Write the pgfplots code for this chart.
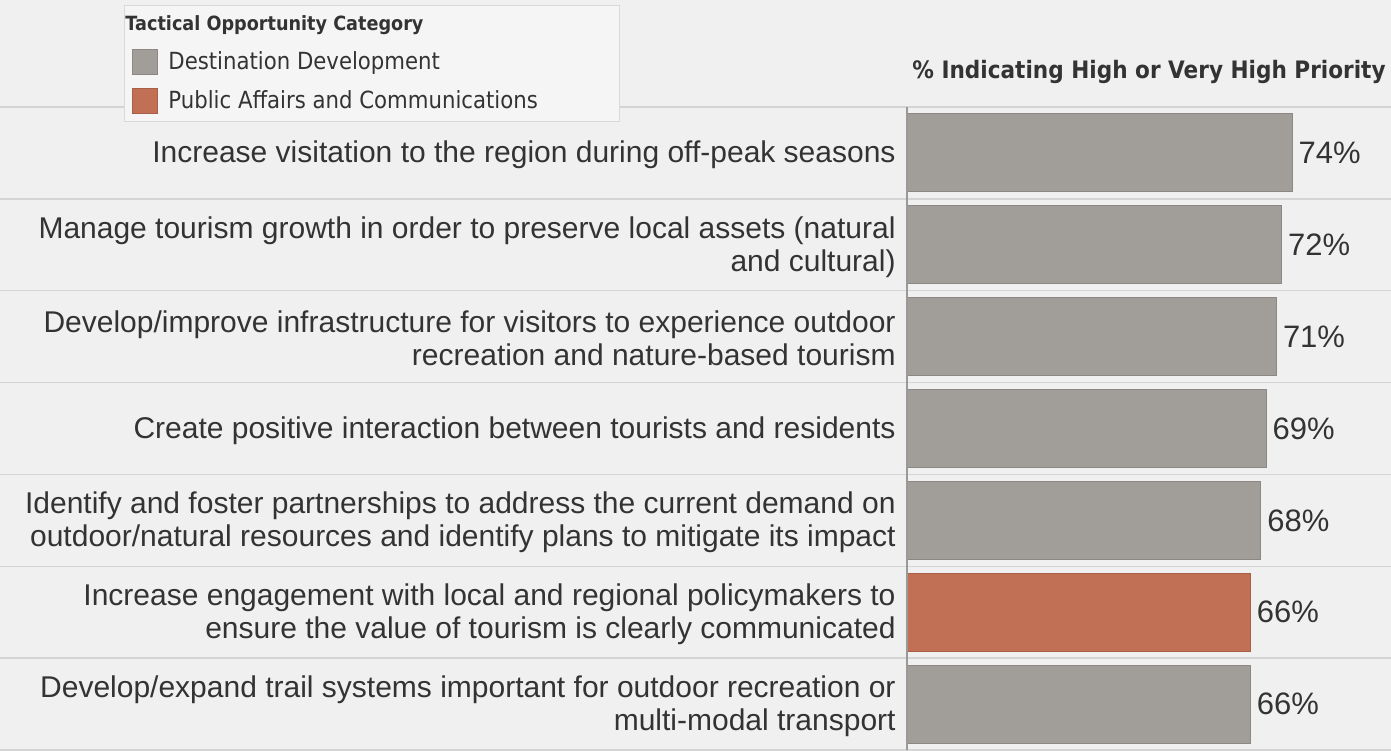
\documentclass[border=0pt]{standalone}
\usepackage{pgfplots}
\pgfplotsset{compat=1.18}
\usepackage{fontspec}
\setmainfont{Liberation Sans}
\newfontfamily\tah[FakeStretch=0.9]{DejaVu Sans}

\definecolor{bgc}{HTML}{F0F0F0}
\definecolor{legfill}{HTML}{F5F5F5}
\definecolor{legdraw}{HTML}{D9D9D9}
\definecolor{sepc}{HTML}{D4D4D4}
\definecolor{barg}{HTML}{A19D99}
\definecolor{bargd}{HTML}{8C8884}
\definecolor{baro}{HTML}{C17056}
\definecolor{barod}{HTML}{A85F48}
\definecolor{txt}{HTML}{333333}

\begin{document}
\begin{tikzpicture}
\fill[bgc] (0,0) rectangle (695.5pt,375pt);
\begin{axis}[
    at={(453.5pt,0pt)}, anchor=south west,
    scale only axis,
    width=242pt, height=321.5pt,
    xbar, bar shift=0pt, bar width=0.85,
    xmin=0, xmax=93,
    ymin=-0.5, ymax=6.5,
    y dir=reverse,
    hide x axis,
    axis line style={draw=none},
    ytick={0,...,6},
    yticklabels={
      {Increase visitation to the region during off-peak seasons},
      {Manage tourism growth in order to preserve local assets (natural\\and cultural)},
      {Develop/improve infrastructure for visitors to experience outdoor\\recreation and nature-based tourism},
      {Create positive interaction between tourists and residents},
      {Identify and foster partnerships to address the current demand on\\outdoor/natural resources and identify plans to mitigate its impact},
      {Increase engagement with local and regional policymakers to\\ensure the value of tourism is clearly communicated},
      {Develop/expand trail systems important for outdoor recreation or\\multi-modal transport}},
    major tick length=0pt,
    yticklabel style={font=\fontsize{15}{16.5}\selectfont, text=txt, align=right, inner sep=0pt, xshift=-5.5pt, yshift=-1pt},
    clip=false,
    point meta=x,
    /pgf/number format/assume math mode=true,
    nodes near coords={\pgfmathprintnumber{\pgfplotspointmeta}\%},
    nodes near coords style={font=\fontsize{15.5}{16}\selectfont, text=txt, anchor=west, inner sep=0pt, xshift=3pt},
    legend image code/.code={\draw[#1] (0pt,-6.25pt) rectangle (12.5pt,6.25pt); \path (15.5pt,0pt);},
    legend cell align=left,
    legend style={at={(-1.6178,1.1586)}, anchor=north west, fill=legfill, draw=legdraw,
      font=\tah\fontsize{11.8}{13}\selectfont, text=txt, row sep=5pt,
      inner xsep=4pt, inner ysep=3pt},
]
\pgfplotsinvokeforeach{-0.5,0.5,1.5,2.5,3.5,4.5,5.5,6.5}{
  \draw[sepc, line width=0.75pt] (axis cs:-174.3,#1) -- (axis cs:93,#1);
}
\addlegendimage{empty legend}
\addlegendentry{\hspace*{-21.5pt}\fontsize{9.8}{11}\selectfont\bfseries Tactical Opportunity Category}
\addplot[fill=barg, draw=bargd, line width=0.5pt] coordinates {
  (74,0) (72,1) (71,2) (69,3) (68,4) (66,6)
};
\addlegendentry{Destination Development}
\addplot[fill=baro, draw=barod, line width=0.5pt] coordinates {
  (66,5)
};
\addlegendentry{Public Affairs and Communications\rule{35pt}{0pt}}
\draw[gray!80, line width=0.75pt] (rel axis cs:0,0) -- (rel axis cs:0,1);
\node[font=\tah\fontsize{12}{14}\selectfont\bfseries, text=txt] at (rel axis cs:0.5,1) [yshift=17.5pt] {\% Indicating High or Very High Priority};
\end{axis}
\pgfresetboundingbox
\useasboundingbox (0,0) rectangle (695.5pt,375pt);
\end{tikzpicture}
\end{document}
